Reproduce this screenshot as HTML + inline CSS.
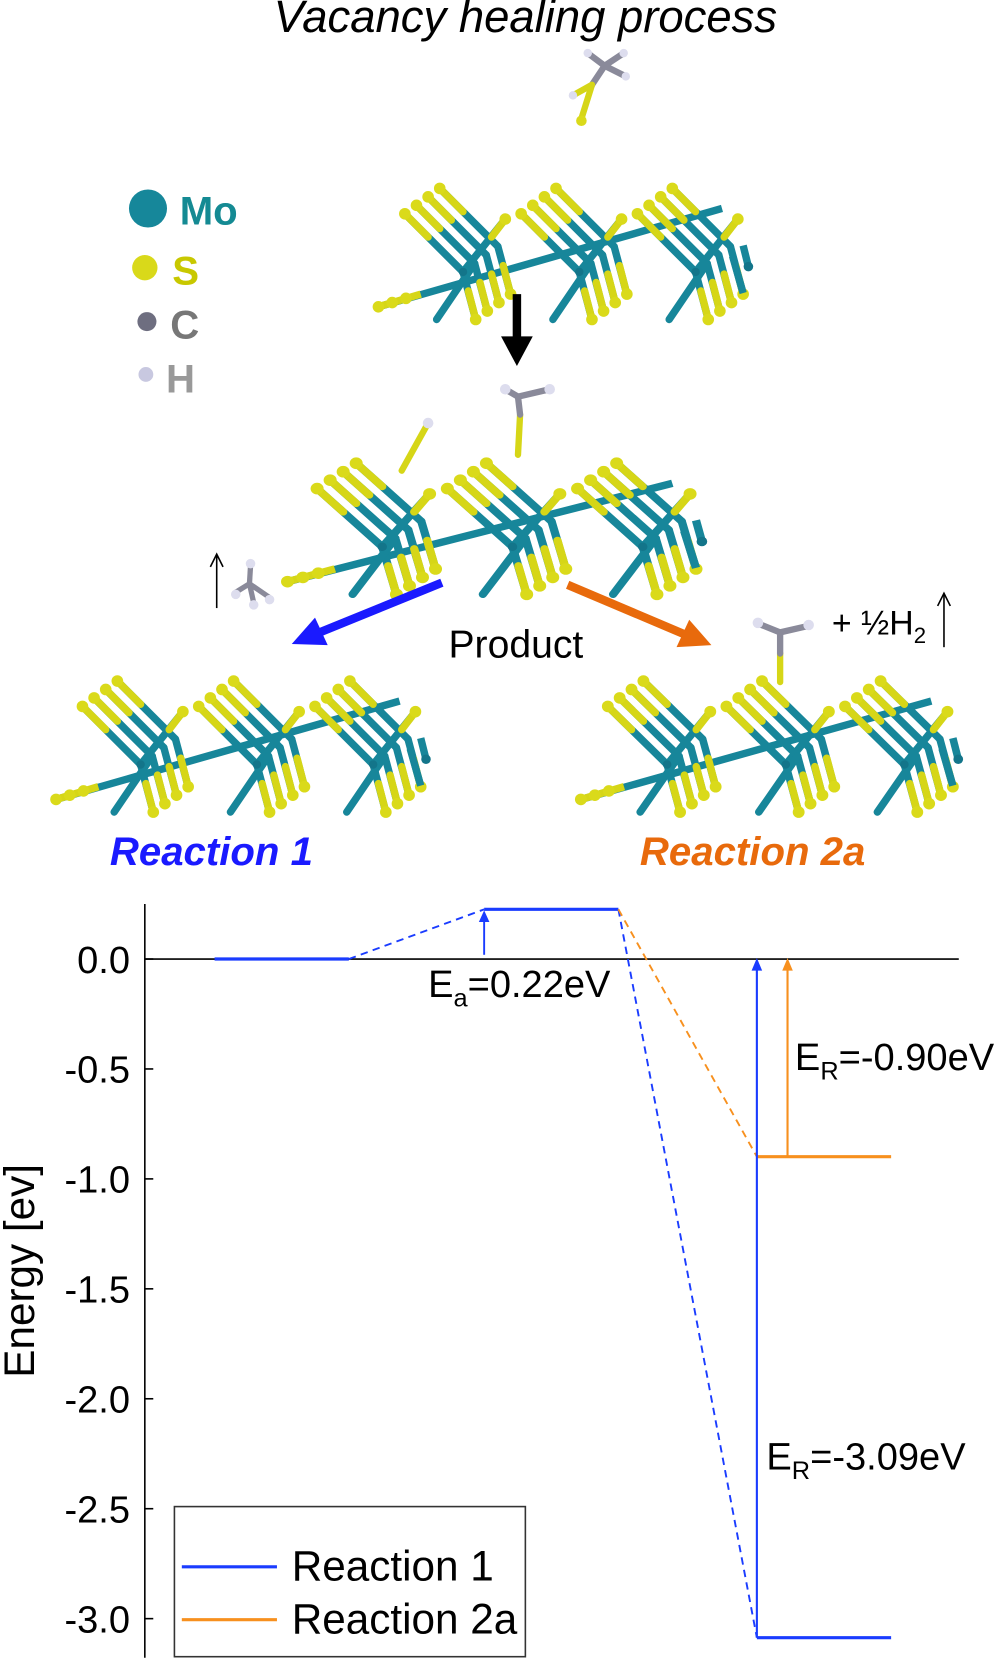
<!DOCTYPE html>
<html><head><meta charset="utf-8"><style>body{margin:0;background:#fff}svg{display:block}</style></head><body>
<svg width="1000" height="1658" viewBox="0 0 946 1568" xmlns="http://www.w3.org/2000/svg" xmlns:xlink="http://www.w3.org/1999/xlink" font-family="Liberation Sans, sans-serif">
<defs>
<g id="u" stroke-linecap="round">
 <g stroke="#17869a" stroke-width="7">
  <line x1="0" y1="0" x2="55" y2="55"/><line x1="11" y1="-8" x2="66" y2="47"/><line x1="22" y1="-16" x2="77" y2="39"/><line x1="33" y1="-24" x2="88" y2="31"/>
  <line x1="55" y1="55" x2="67" y2="100"/><line x1="66" y1="47" x2="78" y2="92"/><line x1="77" y1="39" x2="89" y2="84"/><line x1="88" y1="31" x2="100" y2="76"/>
  <line x1="55" y1="55" x2="95" y2="5"/><line x1="66" y1="47" x2="30" y2="100"/>
 </g>
 <g stroke="#d6d617" stroke-width="7">
  <line x1="0" y1="0" x2="22" y2="22"/><line x1="11" y1="-8" x2="33" y2="14"/><line x1="22" y1="-16" x2="44" y2="6"/><line x1="33" y1="-24" x2="55" y2="-2"/>
  <line x1="60" y1="73" x2="67" y2="100"/><line x1="71" y1="65" x2="78" y2="92"/><line x1="82" y1="57" x2="89" y2="84"/><line x1="93" y1="49" x2="100" y2="76"/>
  <line x1="95" y1="5" x2="82" y2="22"/>
 </g>
 <g fill="#dada1a"><circle cx="0" cy="0" r="5.5"/><circle cx="11" cy="-8" r="5.5"/><circle cx="22" cy="-16" r="5.5"/><circle cx="33" cy="-24" r="5.5"/><circle cx="67" cy="100" r="5.5"/><circle cx="78" cy="92" r="5.5"/><circle cx="89" cy="84" r="5.5"/><circle cx="100" cy="76" r="5.5"/><circle cx="95" cy="5" r="5.5"/></g>
 <circle cx="55" cy="55" r="4" fill="#13758a"/>
</g>
<g id="lat">
 <line x1="-25" y1="88" x2="300" y2="-5" stroke="#17869a" stroke-width="7"/>
 <line x1="-25" y1="88" x2="15" y2="76" stroke="#d6d617" stroke-width="7"/>
 <circle cx="-25" cy="88" r="5.5" fill="#dada1a"/><circle cx="-12" cy="84" r="5.5" fill="#dada1a"/><circle cx="1" cy="80" r="5.5" fill="#dada1a"/>
 <use xlink:href="#u" x="0" y="0"/><use xlink:href="#u" x="110" y="0"/><use xlink:href="#u" x="220" y="0"/>
 <g stroke="#17869a" stroke-width="7"><line x1="320" y1="30" x2="325" y2="50"/><line x1="310" y1="40" x2="320" y2="75"/></g>
 <circle cx="325" cy="50" r="4.5" fill="#13758a"/>
</g>
</defs>

<text x="497" y="30" text-anchor="middle" font-size="43" font-style="italic">Vacancy healing process</text>

<!-- legend atoms -->
<circle cx="140" cy="197" r="18" fill="#16879a"/><text x="170" y="212" font-size="38" font-weight="bold" fill="#148a93">Mo</text>
<circle cx="137" cy="253" r="12" fill="#d9d91a"/><text x="163" y="269" font-size="38" font-weight="bold" fill="#c8c800">S</text>
<circle cx="139" cy="304" r="9" fill="#6e6e80"/><text x="161" y="320" font-size="38" font-weight="bold" fill="#777">C</text>
<circle cx="138" cy="354" r="7" fill="#c8c8e0"/><text x="157" y="371" font-size="38" font-weight="bold" fill="#999">H</text>

<!-- top molecule -->
<g stroke-width="6" stroke-linecap="round">
<line x1="550" y1="112" x2="560" y2="80" stroke="#d6d617"/><line x1="560" y1="80" x2="572" y2="62" stroke="#8a8a9a"/>
<line x1="572" y1="62" x2="592" y2="72" stroke="#8a8a9a"/><line x1="572" y1="62" x2="590" y2="50" stroke="#8a8a9a"/><line x1="572" y1="62" x2="556" y2="50" stroke="#8a8a9a"/><line x1="560" y1="80" x2="542" y2="90" stroke="#d6d617"/>
</g>
<circle cx="592" cy="72" r="4" fill="#dde"/><circle cx="590" cy="50" r="4" fill="#dde"/><circle cx="556" cy="50" r="4" fill="#dde"/><circle cx="542" cy="90" r="4" fill="#dde"/><circle cx="550" cy="114" r="5" fill="#dada1a"/>

<use xlink:href="#lat" transform="translate(383,202)"/>
<line x1="489" y1="278" x2="489" y2="320" stroke="#000" stroke-width="8"/><path d="M474,318L504,318L489,346z" fill="#000"/>

<!-- middle -->
<g stroke-width="6" stroke-linecap="round">
<line x1="490" y1="430" x2="492" y2="392" stroke="#d6d617"/><line x1="492" y1="392" x2="490" y2="375" stroke="#8a8a9a"/><line x1="490" y1="375" x2="478" y2="368" stroke="#8a8a9a"/><line x1="490" y1="375" x2="520" y2="368" stroke="#8a8a9a"/>
<line x1="380" y1="445" x2="405" y2="400" stroke="#d6d617"/>
</g>
<circle cx="478" cy="368" r="5" fill="#dde"/><circle cx="520" cy="368" r="5" fill="#dde"/><circle cx="405" cy="400" r="5" fill="#dde"/>
<use xlink:href="#lat" transform="translate(300,462) scale(1.12,1.0)"/>

<!-- CH3 left -->
<line x1="205" y1="575" x2="205" y2="525" stroke="#000" stroke-width="1.5"/><path d="M199,536L205,524L211,536" fill="none" stroke="#000" stroke-width="1.5"/>
<g stroke="#8a8a9a" stroke-width="5"><line x1="236" y1="552" x2="223" y2="560"/><line x1="236" y1="552" x2="237" y2="535"/><line x1="236" y1="552" x2="255" y2="565"/><line x1="236" y1="552" x2="240" y2="570"/></g>
<circle cx="237" cy="533" r="4.5" fill="#dde"/><circle cx="223" cy="562" r="4.5" fill="#dde"/><circle cx="255" cy="567" r="4.5" fill="#dde"/><circle cx="240" cy="572" r="4.5" fill="#dde"/>

<!-- arrows -->
<line x1="418" y1="551" x2="300" y2="599" stroke="#1a1aff" stroke-width="8"/><path d="M276,609L298,584L310,610z" fill="#1a1aff"/>
<line x1="537" y1="553" x2="648" y2="600" stroke="#e86a0c" stroke-width="8"/><path d="M673,610L640,612L652,586z" fill="#e86a0c"/>
<text x="488" y="622" text-anchor="middle" font-size="37">Product</text>

<!-- right molecule & H2 -->
<g stroke-width="6" stroke-linecap="round"><line x1="738" y1="645" x2="738" y2="618" stroke="#d6d617"/><line x1="738" y1="618" x2="738" y2="598" stroke="#8a8a9a"/><line x1="738" y1="598" x2="718" y2="590" stroke="#8a8a9a"/><line x1="738" y1="598" x2="764" y2="592" stroke="#8a8a9a"/></g>
<circle cx="717" cy="589" r="5" fill="#dde"/><circle cx="765" cy="591" r="5" fill="#dde"/>
<text x="787" y="600" font-size="32">+ ½H<tspan font-size="21" dy="8">2</tspan></text>
<line x1="893" y1="612" x2="893" y2="562" stroke="#000" stroke-width="1.5"/><path d="M887,573L893,561L899,573" fill="none" stroke="#000" stroke-width="1.5"/>

<use xlink:href="#lat" transform="translate(78,668)"/>
<use xlink:href="#lat" transform="translate(575,668) scale(1.02,1)"/>

<text x="200" y="818" text-anchor="middle" font-size="38" font-weight="bold" font-style="italic" fill="#1a1aff">Reaction 1</text>
<text x="712" y="818" text-anchor="middle" font-size="38" font-weight="bold" font-style="italic" fill="#e86a0c">Reaction 2a</text>

<!-- chart -->
<line x1="137" y1="855" x2="137" y2="1568" stroke="#000" stroke-width="1.5"/>
<line x1="137" y1="907" x2="907" y2="907" stroke="#000" stroke-width="1.5"/>
<g stroke="#000" stroke-width="1.5"><line x1="137" y1="907" x2="145" y2="907"/><line x1="137" y1="1011" x2="145" y2="1011"/><line x1="137" y1="1115" x2="145" y2="1115"/><line x1="137" y1="1219" x2="145" y2="1219"/><line x1="137" y1="1323" x2="145" y2="1323"/><line x1="137" y1="1427" x2="145" y2="1427"/><line x1="137" y1="1531" x2="145" y2="1531"/></g>
<g font-size="36" text-anchor="end"><text x="123" y="920">0.0</text><text x="123" y="1024">-0.5</text><text x="123" y="1128">-1.0</text><text x="123" y="1232">-1.5</text><text x="123" y="1336">-2.0</text><text x="123" y="1440">-2.5</text><text x="123" y="1544">-3.0</text></g>
<text transform="translate(32,1202) rotate(-90)" text-anchor="middle" font-size="40">Energy [ev]</text>

<g stroke-width="3"><line x1="203" y1="907" x2="330" y2="907" stroke="#1a3cff"/><line x1="458" y1="860" x2="585" y2="860" stroke="#1a3cff"/><line x1="716" y1="1549" x2="843" y2="1549" stroke="#1a3cff"/><line x1="716" y1="1094" x2="843" y2="1094" stroke="#f7901e"/></g>
<g stroke-width="1.8" stroke-dasharray="7,5" fill="none"><line x1="330" y1="907" x2="458" y2="860" stroke="#1a3cff"/><line x1="585" y1="860" x2="716" y2="1549" stroke="#1a3cff"/><line x1="585" y1="860" x2="716" y2="1094" stroke="#f7901e"/></g>
<line x1="458" y1="903" x2="458" y2="868" stroke="#1a3cff" stroke-width="1.8"/><path d="M453,872L458,861L463,872z" fill="#1a3cff"/>
<line x1="716" y1="1549" x2="716" y2="915" stroke="#1a3cff" stroke-width="2"/><path d="M711,918L716,906L721,918z" fill="#1a3cff"/>
<line x1="745" y1="1094" x2="745" y2="915" stroke="#f7901e" stroke-width="2"/><path d="M740,918L745,906L750,918z" fill="#f7901e"/>
<text x="405" y="943" font-size="36">E<tspan font-size="24" dy="9">a</tspan><tspan dy="-9">=0.22eV</tspan></text>
<text x="752" y="1012" font-size="36">E<tspan font-size="24" dy="9">R</tspan><tspan dy="-9">=-0.90eV</tspan></text>
<text x="725" y="1390" font-size="36">E<tspan font-size="24" dy="9">R</tspan><tspan dy="-9">=-3.09eV</tspan></text>

<rect x="165" y="1425" width="332" height="142" fill="#fff" stroke="#333" stroke-width="1.5"/>
<line x1="172" y1="1482" x2="262" y2="1482" stroke="#1a3cff" stroke-width="3"/><text x="276" y="1495" font-size="40">Reaction 1</text>
<line x1="172" y1="1532" x2="262" y2="1532" stroke="#f7901e" stroke-width="3"/><text x="276" y="1545" font-size="40">Reaction 2a</text>
</svg>
</body></html>
